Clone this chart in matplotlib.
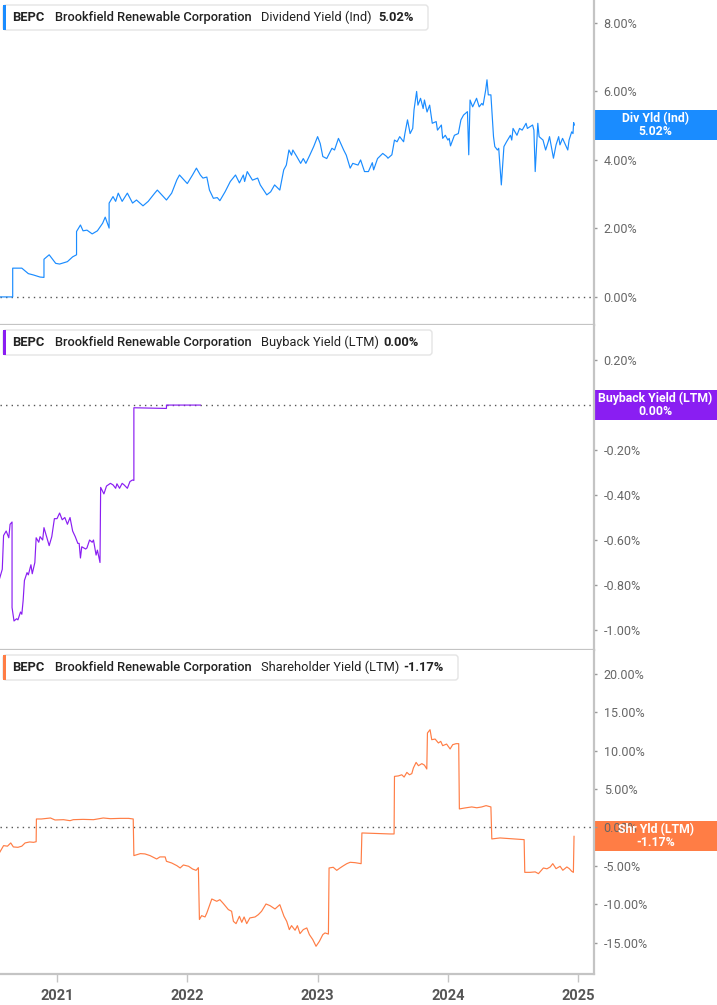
import matplotlib
matplotlib.use('Agg')
import matplotlib.pyplot as plt
import matplotlib.transforms as mtransforms
from matplotlib.patches import Rectangle, FancyBboxPatch
from matplotlib.ticker import FuncFormatter, FixedLocator

plt.rcParams['font.family'] = ['Roboto', 'DejaVu Sans']

# ---- data (decimal year, percent) ----
div_t = [2020.56, 2020.66, 2020.66, 2020.73, 2020.78, 2020.82, 2020.87, 2020.90, 2020.90, 2020.94,
         2020.99, 2021.02, 2021.08, 2021.12, 2021.15, 2021.15, 2021.18, 2021.20, 2021.23, 2021.27,
         2021.31, 2021.35, 2021.37, 2021.40, 2021.40, 2021.43, 2021.45, 2021.47, 2021.50, 2021.54,
         2021.58, 2021.61, 2021.66, 2021.70, 2021.75, 2021.77, 2021.84, 2021.88, 2021.92, 2021.94,
         2022.00, 2022.04, 2022.07, 2022.10, 2022.12, 2022.15, 2022.17, 2022.20, 2022.23, 2022.25,
         2022.29, 2022.33, 2022.37, 2022.40, 2022.43, 2022.44, 2022.46, 2022.50, 2022.54, 2022.56,
         2022.61, 2022.64, 2022.67, 2022.71, 2022.74, 2022.76, 2022.78, 2022.80, 2022.81, 2022.84,
         2022.87, 2022.89, 2022.91, 2022.94, 2022.97, 2023.00, 2023.02, 2023.04, 2023.07, 2023.11,
         2023.13, 2023.16, 2023.20, 2023.22, 2023.25, 2023.27, 2023.31, 2023.33, 2023.36, 2023.39,
         2023.42, 2023.43, 2023.46, 2023.50, 2023.53, 2023.54, 2023.57, 2023.59, 2023.61, 2023.63,
         2023.66, 2023.67, 2023.69, 2023.71, 2023.73, 2023.74, 2023.76, 2023.77, 2023.79, 2023.81,
         2023.82, 2023.84, 2023.86, 2023.88, 2023.91, 2023.92, 2023.95, 2023.96, 2023.98, 2024.00,
         2024.01, 2024.02, 2024.05, 2024.08, 2024.10, 2024.12, 2024.15, 2024.16, 2024.17, 2024.19,
         2024.22, 2024.24, 2024.26, 2024.27, 2024.29, 2024.30, 2024.31, 2024.33, 2024.35, 2024.36,
         2024.38, 2024.39, 2024.41, 2024.43, 2024.45, 2024.48, 2024.49, 2024.50, 2024.53, 2024.55,
         2024.57, 2024.60, 2024.61, 2024.65, 2024.66, 2024.67, 2024.69, 2024.70, 2024.73, 2024.75,
         2024.77, 2024.78, 2024.81, 2024.83, 2024.85, 2024.86, 2024.88, 2024.92, 2024.93, 2024.95,
         2024.96, 2024.965, 2024.97]
div_v = [0.00, 0.00, 0.84, 0.84, 0.68, 0.64, 0.58, 0.57, 1.10, 1.23,
         0.98, 0.96, 1.03, 1.17, 1.23, 1.91, 2.10, 1.93, 1.95, 1.84,
         1.93, 2.15, 2.33, 2.01, 2.74, 2.93, 2.79, 3.03, 2.79, 3.03,
         2.74, 2.83, 2.66, 2.79, 3.03, 3.12, 2.83, 3.03, 3.42, 3.56,
         3.31, 3.56, 3.76, 3.56, 3.47, 3.50, 3.12, 2.88, 2.90, 2.81,
         3.07, 3.37, 3.56, 3.33, 3.56, 3.37, 3.66, 3.41, 3.47, 3.27,
         2.98, 3.07, 3.27, 3.12, 3.71, 3.85, 4.29, 4.14, 4.29, 4.10,
         3.90, 4.04, 3.90, 4.14, 4.39, 4.68, 4.48, 4.10, 4.04, 4.34,
         4.29, 4.63, 4.29, 4.14, 3.76, 3.90, 3.85, 4.00, 3.66, 3.66,
         3.92, 3.71, 4.04, 4.19, 4.10, 4.05, 4.15, 4.58, 4.53, 4.68,
         4.53, 4.77, 5.17, 4.77, 4.92, 5.46, 6.00, 5.60, 5.80, 5.50,
         5.75, 5.40, 5.60, 5.07, 5.12, 4.87, 5.02, 4.63, 4.72, 4.58,
         4.63, 4.41, 4.72, 4.77, 5.17, 5.31, 5.41, 4.15, 5.75, 5.55,
         5.80, 5.55, 5.65, 5.60, 6.04, 6.34, 5.90, 5.90, 4.68, 4.39,
         4.29, 4.34, 3.27, 4.39, 4.53, 4.72, 4.58, 4.92, 4.72, 4.92,
         4.87, 5.07, 4.92, 5.02, 4.87, 3.66, 5.07, 4.68, 4.58, 4.29,
         4.53, 4.68, 4.05, 4.44, 4.68, 4.44, 4.63, 4.29, 4.58, 4.82,
         4.77, 5.09, 5.02]

bb_t = [2020.56, 2020.58, 2020.59, 2020.61, 2020.63, 2020.64, 2020.655, 2020.655, 2020.67, 2020.69,
        2020.70, 2020.72, 2020.73, 2020.74, 2020.75, 2020.77, 2020.78, 2020.80, 2020.81, 2020.83,
        2020.84, 2020.86, 2020.87, 2020.89, 2020.90, 2020.92, 2020.94, 2020.96, 2020.98, 2021.00,
        2021.02, 2021.04, 2021.06, 2021.08, 2021.10, 2021.12, 2021.14, 2021.16, 2021.17, 2021.18,
        2021.19, 2021.22, 2021.23, 2021.25, 2021.27, 2021.28, 2021.30, 2021.31, 2021.33, 2021.335,
        2021.36, 2021.38, 2021.41, 2021.43, 2021.45, 2021.46, 2021.48, 2021.50, 2021.515, 2021.54,
        2021.56, 2021.58, 2021.59, 2021.59, 2021.84, 2021.84, 2022.10]
bb_v = [-0.77, -0.73, -0.58, -0.56, -0.59, -0.53, -0.52, -0.90, -0.96, -0.95,
        -0.955, -0.92, -0.93, -0.87, -0.78, -0.745, -0.755, -0.71, -0.75, -0.70,
        -0.59, -0.61, -0.585, -0.60, -0.545, -0.585, -0.625, -0.585, -0.505, -0.505,
        -0.48, -0.51, -0.50, -0.53, -0.50, -0.56, -0.585, -0.615, -0.615, -0.68,
        -0.63, -0.64, -0.635, -0.60, -0.61, -0.60, -0.667, -0.645, -0.70, -0.366,
        -0.395, -0.36, -0.348, -0.355, -0.37, -0.35, -0.37, -0.348, -0.355, -0.37,
        -0.34, -0.333, -0.335, -0.012, -0.015, 0.00, 0.00]

shy_t = [2020.56, 2020.59, 2020.62, 2020.645, 2020.665, 2020.70, 2020.73, 2020.755, 2020.79, 2020.82,
         2020.84, 2020.842, 2020.88, 2020.95, 2020.985, 2021.05, 2021.10, 2021.125, 2021.20, 2021.28,
         2021.355, 2021.41, 2021.485, 2021.55, 2021.585, 2021.59, 2021.64, 2021.675, 2021.714, 2021.765,
         2021.79, 2021.83, 2021.84, 2021.88, 2021.92, 2021.945, 2021.97, 2022.01, 2022.04, 2022.067,
         2022.085, 2022.093, 2022.11, 2022.136, 2022.15, 2022.188, 2022.226, 2022.25, 2022.277, 2022.315,
         2022.34, 2022.354, 2022.374, 2022.40, 2022.418, 2022.436, 2022.456, 2022.48, 2022.52, 2022.545,
         2022.57, 2022.604, 2022.635, 2022.673, 2022.71, 2022.742, 2022.763, 2022.783, 2022.80, 2022.827,
         2022.845, 2022.865, 2022.89, 2022.917, 2022.937, 2022.963, 2022.988, 2023.014, 2023.04, 2023.057,
         2023.083, 2023.088, 2023.12, 2023.147, 2023.172, 2023.198, 2023.224, 2023.25, 2023.288, 2023.334,
         2023.34, 2023.556, 2023.587, 2023.59, 2023.62, 2023.646, 2023.664, 2023.685, 2023.705, 2023.723,
         2023.735, 2023.756, 2023.774, 2023.80, 2023.82, 2023.838, 2023.843, 2023.863, 2023.876, 2023.902,
         2023.927, 2023.945, 2023.96, 2023.99, 2024.017, 2024.037, 2024.063, 2024.083, 2024.088, 2024.132,
         2024.183, 2024.222, 2024.26, 2024.293, 2024.33, 2024.337, 2024.40, 2024.503, 2024.585, 2024.59,
         2024.63, 2024.67, 2024.695, 2024.733, 2024.76, 2024.785, 2024.805, 2024.83, 2024.861, 2024.882,
         2024.913, 2024.932, 2024.95, 2024.963, 2024.968]
shy_v = [-3.26, -2.38, -2.45, -2.03, -2.55, -2.60, -2.45, -2.03, -1.90, -1.95,
         -1.87, 1.09, 1.09, 1.22, 0.96, 1.00, 0.87, 1.00, 1.04, 1.00,
         1.22, 1.13, 1.17, 1.17, 1.09, -3.68, -3.42, -3.46, -3.68, -4.12,
         -3.85, -3.85, -4.42, -4.64, -4.99, -5.29, -4.90, -5.07, -5.42, -5.60,
         -5.25, -12.00, -11.50, -11.67, -11.15, -9.33, -9.63, -9.42, -9.93, -10.71,
         -10.93, -12.24, -12.54, -11.58, -12.37, -11.67, -12.54, -11.80, -11.67, -11.37,
         -10.93, -9.98, -10.20, -10.63, -10.07, -11.58, -12.24, -13.32, -12.80, -13.40,
         -12.80, -13.84, -13.32, -13.10, -13.97, -14.62, -15.49, -14.84, -13.97, -13.75,
         -13.90, -5.29, -5.20, -5.60, -5.29, -5.00, -4.73, -4.55, -4.60, -4.73,
         -0.73, -0.86, -0.86, 6.64, 6.70, 6.85, 6.55, 7.16, 6.85, 7.00,
         7.73, 8.46, 8.03, 8.30, 8.10, 7.60, 12.29, 12.72, 11.42, 11.50,
         10.99, 11.20, 10.64, 10.85, 10.21, 10.77, 10.90, 10.90, 2.40, 2.53,
         2.66, 2.55, 2.66, 2.83, 2.66, -1.51, -1.38, -1.51, -1.60, -5.86,
         -5.86, -5.80, -6.03, -5.29, -5.40, -5.16, -4.73, -5.38, -5.07, -5.59,
         -5.16, -5.38, -5.72, -5.86, -1.17]

year_ticks = [2021, 2022, 2023, 2024, 2025]

panels = [
    dict(t=div_t, v=div_v, color='#1a8cff', metric='Dividend Yield (Ind)', value='5.02%',
         tag=['Div Yld (Ind)', '5.02%'], ticks=[0, 2, 4, 6, 8], ylim=(-0.82, 8.67), box_w=425),
    dict(t=bb_t, v=bb_v, color='#8a1ef2', metric='Buyback Yield (LTM)', value='0.00%',
         tag=['Buyback Yield (LTM)', '0.00%'], ticks=[-1.0, -0.8, -0.6, -0.4, -0.2, 0.2],
         ylim=(-1.089, 0.356), box_w=429),
    dict(t=shy_t, v=shy_v, color='#ff7d45', metric='Shareholder Yield (LTM)', value='-1.17%',
         tag=['Shr Yld (LTM)', '-1.17%'], ticks=[-15, -10, -5, 0, 5, 10, 15, 20],
         ylim=(-19.1, 23.1), box_w=455),
]

W, H = 717, 1005
fig = plt.figure(figsize=(W / 100, H / 100), dpi=100)
px = mtransforms.Affine2D().scale(1 / W, -1 / H).translate(0, 1) + fig.transFigure

tops = [0, 325, 650]
heights = [325, 325, 324]
axes_right = 594
spine_c = '#c4c4c4'

for i, p in enumerate(panels):
    top, h = tops[i], heights[i]
    ax = fig.add_axes([0, 1 - (top + h) / H, axes_right / W, h / H])
    ax.plot(p['t'], p['v'], color=p['color'], lw=0.85)
    ax.axhline(0, color='#555555', lw=1.0, ls=(0, (1, 3)), zorder=1)
    ax.set_xlim(2021 - 57 / 130.3, 2021 + (axes_right - 57) / 130.3)
    ax.set_ylim(*p['ylim'])

    for s in ['top', 'left']:
        ax.spines[s].set_visible(False)
    ax.spines['right'].set_color(spine_c)
    ax.spines['right'].set_linewidth(1.6)
    ax.spines['bottom'].set_color(spine_c)
    ax.spines['bottom'].set_linewidth(1.6)

    ax.yaxis.tick_right()
    ax.yaxis.set_major_locator(FixedLocator(p['ticks']))
    ax.yaxis.set_major_formatter(FuncFormatter(lambda v, pos: f'{v:.2f}%'))
    ax.tick_params(axis='y', length=2, width=1, color='#999999', pad=5,
                   labelsize=9, labelcolor='#666666')

    ax.xaxis.set_major_locator(FixedLocator(year_ticks))
    if i < 2:
        ax.tick_params(axis='x', length=0, labelbottom=False)
    else:
        ax.xaxis.set_major_formatter(FuncFormatter(lambda v, pos: f'{v:.0f}'))
        ax.tick_params(axis='x', length=6, width=1, color=spine_c, pad=5,
                       labelsize=10.5, labelcolor='#555555')
        for lab in ax.get_xticklabels():
            lab.set_fontweight('bold')

    # legend header box
    box = FancyBboxPatch((3, top + 5), p['box_w'], 25,
                         boxstyle='round,pad=0,rounding_size=3',
                         fc='white', ec='#e4e4e4', lw=1, transform=px)
    fig.add_artist(box)
    fig.add_artist(Rectangle((3, top + 5), 3, 25, fc=p['color'], ec='none', transform=px))
    yc = top + 17.5
    txt = dict(transform=px, va='center', ha='left', fontsize=9.3, color='#222222')
    fig.text(12, yc, 'BEPC', fontweight='bold', **txt)
    fig.text(55, yc, 'Brookfield Renewable Corporation', fontweight='medium', **txt)
    fig.text(261, yc, p['metric'], **txt)
    fig.text(261 + (117 if i == 0 else 122 if i == 1 else 142), yc, p['value'],
             fontweight='bold', **txt)

    # last-value tag on the right axis
    fig.canvas.draw()
    yd = ax.transData.transform((p['t'][-1], p['v'][-1]))[1]
    ytag = H - yd
    tag = Rectangle((axes_right, ytag - 15), W - axes_right, 30, fc=p['color'], ec='none',
                    transform=px, zorder=-1)
    fig.add_artist(tag)
    fig.text(655.5, ytag - 6.5, p['tag'][0], transform=px, ha='center', va='center',
             fontsize=8.8, color='white', fontweight='bold', zorder=5)
    fig.text(655.5, ytag + 6.5, p['tag'][1], transform=px, ha='center', va='center',
             fontsize=8.8, color='white', fontweight='bold', zorder=5)

fig.savefig('out.png', dpi=100, facecolor='white')
